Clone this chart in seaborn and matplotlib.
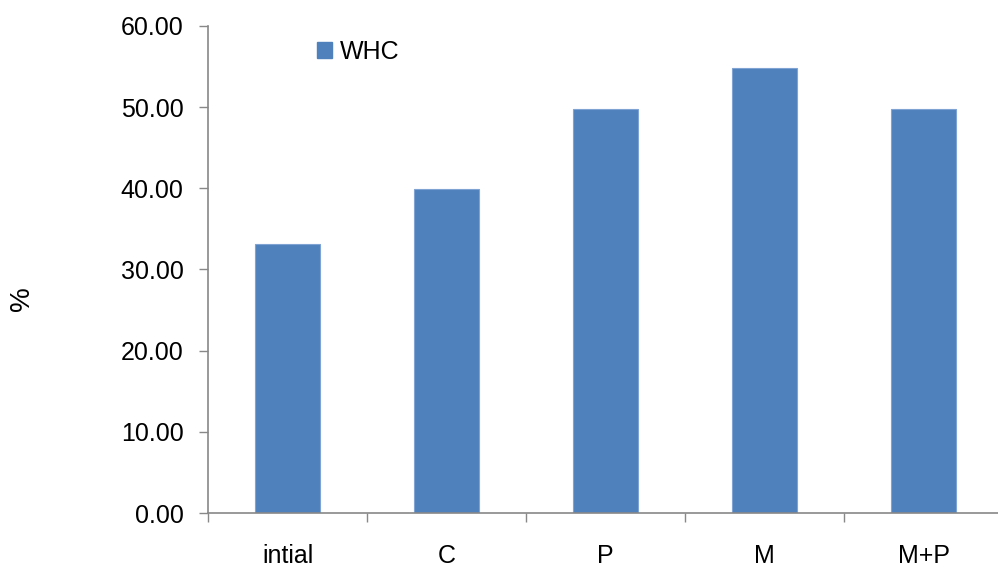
import matplotlib
matplotlib.use("Agg")
import matplotlib.pyplot as plt
import seaborn as sns
import pandas as pd
from matplotlib.patches import Patch

categories = ["intial", "C", "P", "M", "M+P"]
whc_values = [33.2, 39.9, 49.8, 54.8, 49.8]
y_ticks = [0, 10, 20, 30, 40, 50, 60]

sns.set_theme(style="white")
plt.rcParams["font.family"] = ["Liberation Sans", "DejaVu Sans"]
plt.rcParams["text.color"] = "black"
plt.rcParams["xtick.color"] = "#888888"
plt.rcParams["ytick.color"] = "#888888"
plt.rcParams["xtick.labelcolor"] = "black"
plt.rcParams["ytick.labelcolor"] = "black"

df = pd.DataFrame({"group": categories, "WHC": whc_values})

fig = plt.figure(figsize=(9.98, 5.67), dpi=100)
ax = fig.add_axes([0.2084, 0.0952, 0.797, 0.859])

bar_color = "#4F81BD"
sns.barplot(data=df, x="group", y="WHC", color=bar_color, width=0.41,
            edgecolor="#7FA3D2", linewidth=0.8, saturation=1, ax=ax)

ax.set_ylim(0, 60)
ax.set_xlim(-0.5, len(categories) - 0.5)
ax.set_yticks(y_ticks)
ax.set_yticklabels([f"{v:.2f}" for v in y_ticks], fontsize=18)

# category labels centred, ticks drawn at the boundaries between groups
ax.set_xticks(range(len(categories)))
ax.set_xticklabels(categories, fontsize=18)
ax.set_xticks([i - 0.5 for i in range(len(categories) + 1)], minor=True)
ax.tick_params(axis="x", which="major", bottom=True, length=0, pad=22)
ax.tick_params(axis="x", which="minor", bottom=True, length=6.5, width=1,
               color="#888888", direction="out")
ax.tick_params(axis="y", left=True, length=6.5, width=1, color="#888888",
               direction="out", pad=11)

for side in ["top", "right"]:
    ax.spines[side].set_visible(False)
for side in ["left", "bottom"]:
    ax.spines[side].set_color("#888888")
    ax.spines[side].set_linewidth(1.2)

ax.set_xlabel("")
ax.set_ylabel("%", fontsize=20, color="black")
ax.yaxis.set_label_coords(-0.218, 0.44)

handles = [Patch(facecolor=bar_color, edgecolor=bar_color, label="WHC")]
ax.legend(handles=handles, loc="upper left", bbox_to_anchor=(0.125, 0.992),
          frameon=False, fontsize=18, handlelength=0.6, handleheight=0.6,
          handletextpad=0.3, borderaxespad=0)

fig.savefig("out.png", dpi=100)
